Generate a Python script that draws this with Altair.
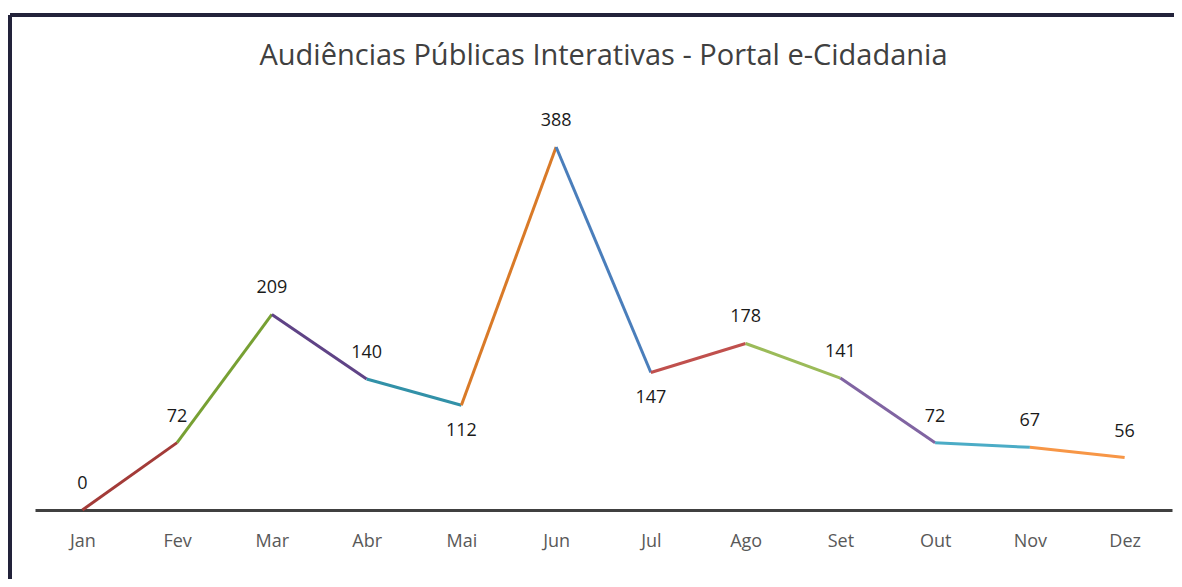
import altair as alt
import pandas as pd

months = ["Jan", "Fev", "Mar", "Abr", "Mai", "Jun", "Jul", "Ago", "Set", "Out", "Nov", "Dez"]
values = [0, 72, 209, 140, 112, 388, 147, 178, 141, 72, 67, 56]
segment_colors = ["#A33B38", "#77A033", "#5F4386", "#3291A8", "#D97A28", "#4A7EBB",
                  "#C0504D", "#9BBB59", "#8064A2", "#4BACC6", "#F79646"]
labels_below = ["Mai", "Jul"]
title_text = "Audiências Públicas Interativas - Portal e-Cidadania"

FONT = "Open Sans"

rows = []
for i in range(len(months) - 1):
    for j in (i, i + 1):
        rows.append({"seg": i, "month": months[j], "value": values[j]})
seg_df = pd.DataFrame(rows)

pts = pd.DataFrame({"month": months, "value": values})
pts["pos"] = ["below" if m in labels_below else "above" for m in months]

xenc = alt.X("month:O", sort=months, scale=alt.Scale(padding=0.5),
             axis=alt.Axis(title=None, ticks=False, labelAngle=0, labelFontSize=18,
                           labelColor="#595959", labelFont=FONT, labelPadding=22,
                           domainColor="#404040", domainWidth=3))
yenc = alt.Y("value:Q", scale=alt.Scale(domain=[0, 450], nice=False), axis=None)

lines = alt.Chart(seg_df).mark_line(strokeWidth=3, clip=False).encode(
    x=xenc, y=yenc,
    color=alt.Color("seg:N", scale=alt.Scale(domain=list(range(11)), range=segment_colors), legend=None),
    detail="seg:N",
)

above = alt.Chart(pts).transform_filter(alt.datum.pos == "above").mark_text(
    dy=-26, fontSize=18, font=FONT, color="#1a1a1a", baseline="middle"
).encode(x=xenc, y=yenc, text="value:Q")

below = alt.Chart(pts).transform_filter(alt.datum.pos == "below").mark_text(
    dy=26, fontSize=18, font=FONT, color="#1a1a1a", baseline="middle"
).encode(x=xenc, y=yenc, text="value:Q")

border_top = alt.Chart(pts).mark_rule(color="#23233a", strokeWidth=3, clip=False).encode(
    x=alt.value(-25), x2=alt.value(1200), y=alt.value(-74))
border_left = alt.Chart(pts).mark_rule(color="#23233a", strokeWidth=3, clip=False).encode(
    x=alt.value(-25), y=alt.value(-74), y2=alt.value(600))

chart = alt.layer(border_top, border_left, lines, above, below).properties(
    width=1137, height=421,
    title=alt.TitleParams(title_text, fontSize=29, font=FONT, fontWeight="normal",
                          color="#404040", offset=20, dy=77, anchor="middle", frame="group"),
    autosize=alt.AutoSizeParams(type="none"),
    padding={"left": 27, "top": 81, "right": 2, "bottom": 69},
).configure(background="white").configure_view(stroke=None)

chart.save("out.html", embed_options={"renderer": "svg", "actions": False})
